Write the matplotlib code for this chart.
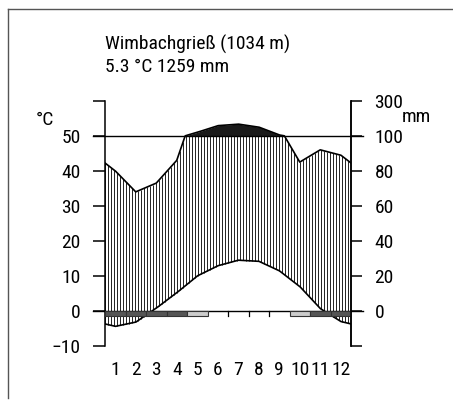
import numpy as np
import matplotlib.pyplot as plt
import matplotlib.font_manager as fm
from matplotlib.patches import Rectangle

# the reference uses a condensed grotesque; take one if installed
narrow = [f for f in fm.fontManager.ttflist
          if f.style == "normal" and f.weight in (400, "normal", "regular")
          and ("Narrow" in f.name or "Condensed" in f.name
               or f.stretch in ("condensed", "semi-condensed", 500 - 100, 300, 400 - 100))]
pref = ["Roboto", "Liberation", "Noto Sans", "Open Sans", "DejaVu"]
narrow.sort(key=lambda f: next((i for i, p in enumerate(pref) if p in f.name), 99))
if narrow:
    plt.rcParams['font.family'] = [narrow[0].name, 'DejaVu Sans']
    plt.rcParams['font.stretch'] = narrow[0].stretch
    FS = 14
else:
    plt.rcParams['font.family'] = ['Roboto', 'DejaVu Sans']
    FS = 12.5

station = "Wimbachgrieß (1034 m)"
summary = "5.3 °C 1259 mm"
months = ["1", "2", "3", "4", "5", "6", "7", "8", "9", "10", "11", "12"]
temp = [-4.4, -3.2, 0.8, 5.2, 10.0, 12.9, 14.5, 14.2, 11.5, 7.0, 0.7, -3.0]
precip = [80, 68, 73, 86, 120, 158, 167, 150, 105, 85, 92, 89]
# 2 = cold month (dark), 1 = frost possible (light), 0 = frost free
frost = [2, 2, 2, 2, 1, 0, 0, 0, 0, 1, 2, 2]

temp_ticks = [-10, 0, 10, 20, 30, 40, 50, 60]
temp_labels = ["\u221210", "0", "10", "20", "30", "40", "50", ""]
prec_labels = ["", "0", "20", "40", "60", "80", "100", "300"]


def ptrans(p):
    p = np.asarray(p, dtype=float)
    return np.where(p <= 100, p / 2, 50 + (p - 100) / 20)


W, H = 453, 401
fig = plt.figure(figsize=(W / 100, H / 100), dpi=100)
ax = fig.add_axes([105 / W, (H - 346) / H, 246 / W, 245.2 / H])
ax.set_xlim(0, 12)
ax.set_ylim(-10, 60)

# month centres plus edges (edge = mean of Dec and Jan)
xm = np.concatenate([[0], np.arange(12) + 0.5, [12]])
t_edge = (temp[0] + temp[-1]) / 2
p_edge = (precip[0] + precip[-1]) / 2
tm = np.concatenate([[t_edge], temp, [t_edge]])
pm = np.concatenate([[p_edge], precip, [p_edge]])

xs = np.linspace(0, 12, 1201)
t_line = np.interp(xs, xm, tm)
p_line = ptrans(np.interp(xs, xm, pm))

# humid hatching
xh = np.linspace(0, 12, 83)
lo = np.interp(xh, xm, tm)
hi = np.minimum(ptrans(np.interp(xh, xm, pm)), 50)
ax.vlines(xh, lo, hi, color="#222222", lw=0.7, zorder=1)

# > 100 mm black area
ax.fill_between(xs, 50, p_line, where=p_line > 50, color="#1a1a1a",
                interpolate=True, lw=0, zorder=2)

ax.plot(xs, t_line, color="black", lw=1.2, zorder=3)
ax.plot(xs, p_line, color="black", lw=1.2, zorder=3)

ax.axhline(0, xmin=-12 / 246, xmax=1 + 12 / 246, color="black", lw=1,
           clip_on=False, zorder=4)
ax.axhline(50, xmin=-12 / 246, xmax=1 + 12 / 246, color="black", lw=1,
           clip_on=False, zorder=4)

# frost bar
bar_h = 1.35
for i, f in enumerate(frost):
    if f == 2:
        ax.add_patch(Rectangle((i, -bar_h), 1, bar_h, fc="#555555",
                               ec="#333333", lw=0.8, zorder=5))
    elif f == 1:
        ax.add_patch(Rectangle((i, -bar_h), 1, bar_h, fc="#cccccc",
                               ec="#333333", lw=0.8, zorder=5))
for i in range(1, 12):
    if frost[i - 1] == 0 and frost[i] == 0:
        ax.plot([i, i], [0, -bar_h], color="black", lw=0.9, zorder=5)

for s in ["top", "bottom"]:
    ax.spines[s].set_visible(False)
ax.spines["left"].set_linewidth(1.1)
ax.spines["right"].set_linewidth(1.1)

ax.set_yticks(temp_ticks)
ax.set_yticklabels(temp_labels)
ax.tick_params(axis="y", direction="out", length=8.6, width=1.1, pad=9,
               labelsize=FS, colors="black")
ax.set_xticks(np.arange(12) + 0.5)
ax.set_xticklabels(months)
ax.tick_params(axis="x", length=0, pad=11, labelsize=FS)

ax2 = ax.twinx()
ax2.set_ylim(-10, 60)
ax2.set_yticks(temp_ticks)
ax2.set_yticklabels(prec_labels)
for s in ["top", "bottom", "left"]:
    ax2.spines[s].set_visible(False)
ax2.spines["right"].set_linewidth(1.1)
ax2.tick_params(axis="y", direction="out", length=8, width=1.1, pad=9,
                labelsize=FS)

fig.text(105 / W, 1 - 50 / H, station, fontsize=FS, ha="left", va="baseline")
fig.text(105 / W, 1 - 72 / H, summary, fontsize=FS, ha="left", va="baseline")
fig.text(36 / W, 1 - 125 / H, "°C", fontsize=FS, ha="left", va="baseline")
fig.text(402 / W, 1 - 122 / H, "mm", fontsize=FS, ha="left", va="baseline")

# frame
fig.add_artist(plt.Line2D([8 / W, 1], [1 - 9 / H, 1 - 9 / H], color="#555555", lw=1))
fig.add_artist(plt.Line2D([8 / W, 8 / W], [1 - 9 / H, 1 - 398 / H], color="#555555", lw=1))

fig.savefig("out.png", dpi=100)
